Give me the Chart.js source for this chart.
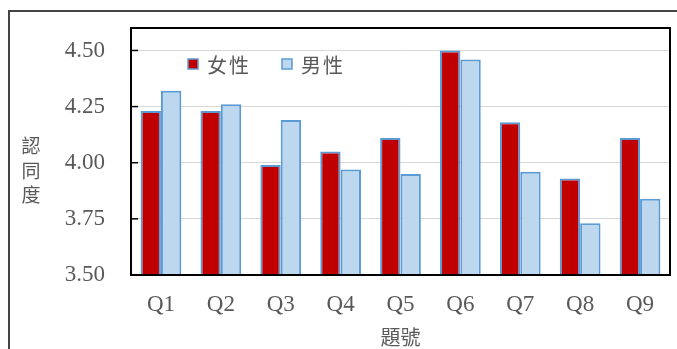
<!DOCTYPE html>
<html>
<head>
<meta charset="utf-8">
<script src="https://cdn.jsdelivr.net/npm/chart.js@4"></script>
<style>
    html, body { margin: 0; padding: 0; background: #fff; overflow: hidden; }
    #wrap { position: relative; width: 677px; height: 349px; }
    #frame { position: absolute; left: 8px; top: 10px; width: 720px; height: 400px; border: 2px solid #444; box-sizing: border-box; pointer-events: none; }
    canvas { position: absolute; left: 0; top: 0; }
</style>
</head>
<body>
<div id="wrap">
    <canvas id="chart" width="677" height="349"></canvas>
    <div id="frame"></div>
</div>
<script>
const categories = ['Q1', 'Q2', 'Q3', 'Q4', 'Q5', 'Q6', 'Q7', 'Q8', 'Q9'];
const femaleScores = [4.23, 4.23, 3.99, 4.05, 4.11, 4.50, 4.18, 3.93, 4.11];
const maleScores = [4.32, 4.26, 4.19, 3.97, 3.95, 4.46, 3.96, 3.73, 3.84];
const yTickValues = [3.50, 3.75, 4.00, 4.25, 4.50];
const seriesNames = ['女性', '男性'];
const yTitle = ['認', '同', '度'];
const xTitle = '題號';

const textGray = '#595959';
const cjkFont = '"Noto Sans CJK TC", "Noto Sans CJK SC", sans-serif';
const numFont = '"Liberation Serif", "DejaVu Serif", serif';
const femaleColor = '#C00000';
const maleColor = '#BDD7EE';
const edgeColor = '#5B9BD5';

// frame, inner tick marks, legend and stacked y title
const decorPlugin = {
    id: 'decor',
    afterDraw(chart) {
        const { ctx, chartArea: a, scales } = chart;
        ctx.save();
        ctx.strokeStyle = '#000';
        ctx.lineWidth = 2;
        ctx.strokeRect(a.left, a.top, a.right - a.left, a.bottom - a.top);
        ctx.lineWidth = 1.5;
        yTickValues.forEach(v => {
            const y = scales.y.getPixelForValue(v);
            ctx.beginPath();
            ctx.moveTo(a.left, y);
            ctx.lineTo(a.left + 7, y);
            ctx.stroke();
        });

        // legend
        const items = [
            { x: 188, color: femaleColor, label: seriesNames[0] },
            { x: 282, color: maleColor, label: seriesNames[1] }
        ];
        ctx.font = '20px ' + cjkFont;
        ctx.textBaseline = 'middle';
        ctx.textAlign = 'left';
        items.forEach(it => {
            ctx.fillStyle = it.color;
            ctx.fillRect(it.x, 59, 10, 10);
            ctx.strokeStyle = edgeColor;
            ctx.lineWidth = 1.5;
            ctx.strokeRect(it.x, 59, 10, 10);
            ctx.fillStyle = textGray;
            let tx = it.x + 19;
            for (const ch of it.label) {
                ctx.fillText(ch, tx, 65);
                tx += 22;
            }
        });

        // vertical y title
        ctx.font = '19px ' + cjkFont;
        ctx.textAlign = 'center';
        yTitle.forEach((ch, i) => {
            ctx.fillText(ch, 31, 146 + i * 24.5);
        });
        ctx.restore();
    }
};

new Chart(document.getElementById('chart'), {
    type: 'bar',
    data: {
        labels: categories,
        datasets: [
            {
                label: seriesNames[0],
                data: femaleScores,
                backgroundColor: femaleColor,
                borderColor: edgeColor,
                borderWidth: 2,
                categoryPercentage: 0.68,
                barPercentage: 1
            },
            {
                label: seriesNames[1],
                data: maleScores,
                backgroundColor: maleColor,
                borderColor: edgeColor,
                borderWidth: 2,
                categoryPercentage: 0.68,
                barPercentage: 1
            }
        ]
    },
    options: {
        responsive: false,
        animation: false,
        layout: { padding: { top: 28, right: 7, left: 0, bottom: 0 } },
        plugins: {
            legend: { display: false },
            tooltip: { enabled: false }
        },
        scales: {
            x: {
                grid: { display: false, drawTicks: false },
                border: { display: false },
                ticks: {
                    color: textGray,
                    padding: 16,
                    font: { family: numFont, size: 23 }
                },
                title: {
                    display: true,
                    text: xTitle,
                    color: textGray,
                    font: { family: cjkFont, size: 20 },
                    padding: { top: 0, bottom: 0 }
                },
                afterFit(scale) { scale.height = 74; }
            },
            y: {
                min: 3.5,
                max: 4.6,
                grid: { color: '#D9D9D9', lineWidth: 1, drawTicks: false },
                border: { display: false },
                ticks: {
                    color: textGray,
                    padding: 26,
                    font: { family: numFont, size: 23 },
                    callback: v => v.toFixed(2)
                },
                afterBuildTicks(scale) {
                    scale.ticks = yTickValues.map(v => ({ value: v }));
                },
                afterFit(scale) {
                    scale.width = 131;
                    scale.paddingTop = 0;
                    scale.paddingBottom = 0;
                }
            }
        }
    },
    plugins: [decorPlugin]
});
</script>
</body>
</html>
